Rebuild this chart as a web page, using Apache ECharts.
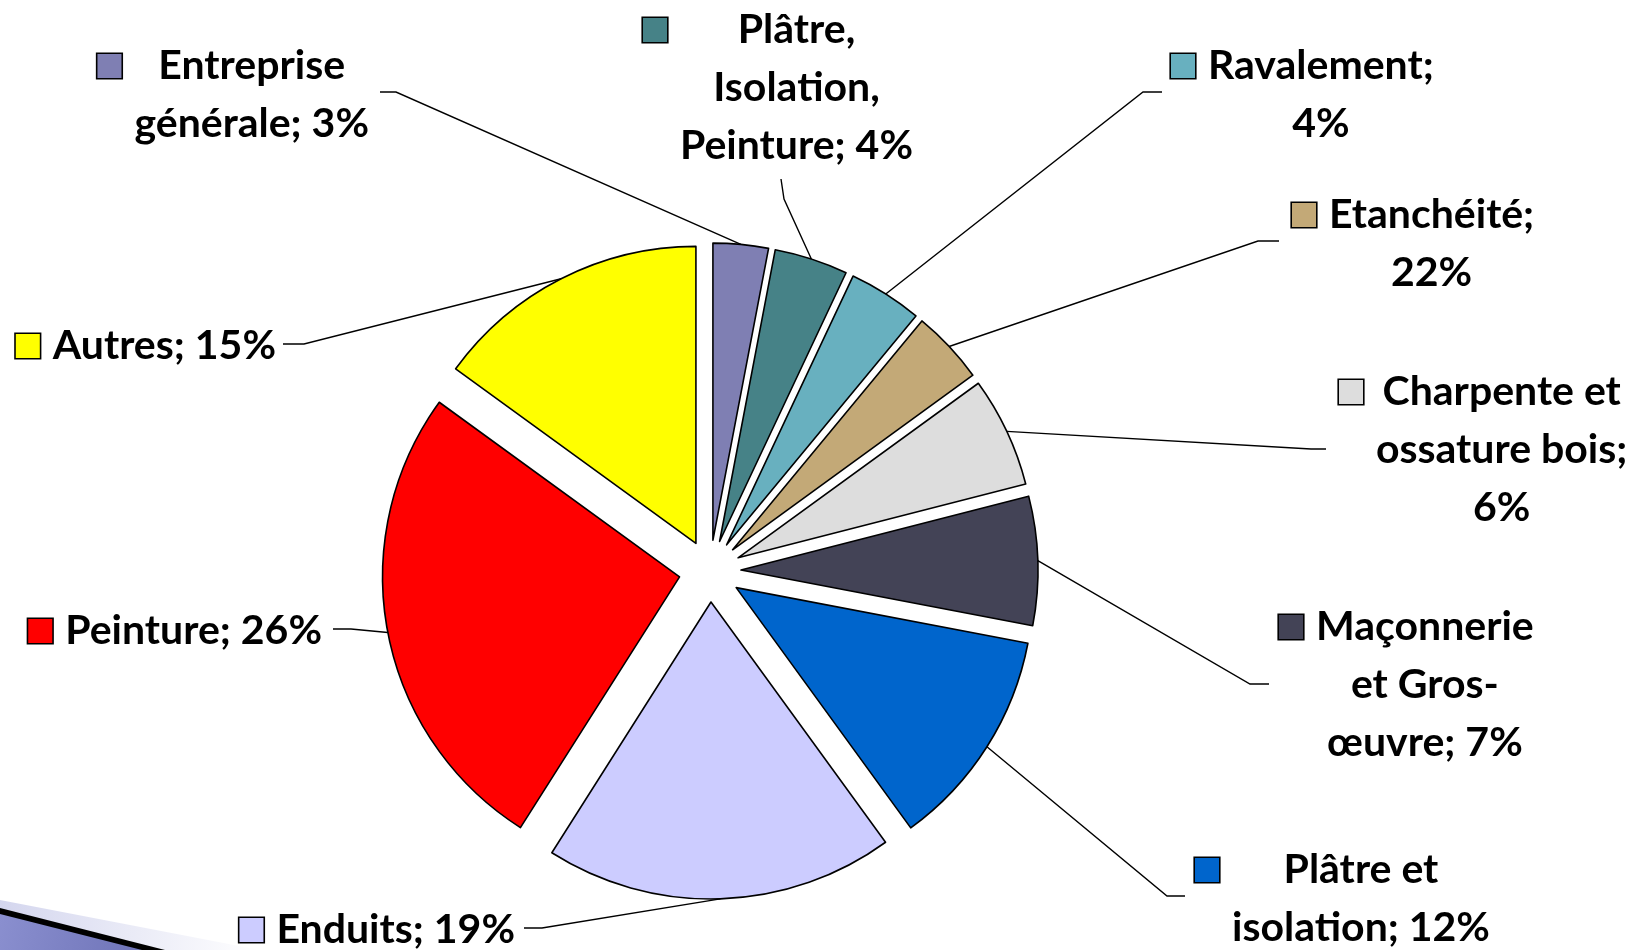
<!DOCTYPE html>
<html>
<head>
<meta charset="utf-8">
<script src="https://cdn.jsdelivr.net/npm/echarts@6/dist/echarts.min.js"></script>
<style>
  html, body { margin: 0; padding: 0; background: #ffffff; }
  #chart { width: 1644px; height: 950px; }
</style>
</head>
<body>
<div id="chart"></div>
<script>
// ---- data ----
const categories = ['Entreprise générale', 'Plâtre, Isolation, Peinture', 'Ravalement', 'Etanchéité',
  'Charpente et ossature bois', 'Maçonnerie et Gros-œuvre', 'Plâtre et isolation', 'Enduits', 'Peinture', 'Autres'];
// slice sizes as drawn (%)
const sliceShares = [3, 4, 4, 4, 6, 7, 12, 19, 26, 15];
// percentages printed in the labels
const labelPercents = [3, 4, 4, 22, 6, 7, 12, 19, 26, 15];
// label text, wrapped as in the picture ({p} = printed percentage)
const labelLines = [
  ['Entreprise', 'générale; {p}%'],
  ['Plâtre,', 'Isolation,', 'Peinture; {p}%'],
  ['Ravalement;', '{p}%'],
  ['Etanchéité;', '{p}%'],
  ['Charpente et', 'ossature bois;', '{p}%'],
  ['Maçonnerie', 'et Gros-', 'œuvre; {p}%'],
  ['Plâtre et', 'isolation; {p}%'],
  ['Enduits; {p}%'],
  ['Peinture; {p}%'],
  ['Autres; {p}%']
];
const colors = ['#7F7FB3', '#468287', '#68B0BF', '#C3A977', '#DDDDDD', '#434356', '#0065CC', '#CCCCFF', '#FF0000', '#FFFF00'];

// ---- layout (not data) ----
const CX = 710, CY = 571, RADIUS = 297, EXPLODE = 31;
const LABEL_LAYOUT = [
  { side: 'L', x: 369, y: 95,  elbow: [396, 92],  end: [380, 92] },
  { side: 'T', x: 778, y: 175, elbow: [784, 199], end: [781, 179] },
  { side: 'R', x: 1171, y: 95, elbow: [1143, 92], end: [1162, 92] },
  { side: 'R', x: 1292, y: 244, elbow: [1258, 241], end: [1279, 241] },
  { side: 'R', x: 1339, y: 450, elbow: [1311, 449], end: [1326, 449] },
  { side: 'R', x: 1279, y: 685, elbow: [1250, 684], end: [1269, 684] },
  { side: 'R', x: 1195, y: 899, elbow: [1167, 896], end: [1185, 896] },
  { side: 'L', x: 515, y: 930, elbow: [542, 928], end: [524, 928] },
  { side: 'L', x: 322, y: 631, elbow: [351, 629], end: [333, 629] },
  { side: 'L', x: 276, y: 346, elbow: [304, 344], end: [283, 344] }
];
const KEY = 24, GAP = 13;

const total = sliceShares.reduce((a, b) => a + b, 0);
const cum = [];
sliceShares.reduce((acc, v, i) => { cum[i] = acc; return acc + v; }, 0);
function sliceEdgePoint(i) {
  const mid = (cum[i] + sliceShares[i] / 2) / total * Math.PI * 2;
  const r = RADIUS + EXPLODE;
  return [CX + r * Math.sin(mid), CY - r * Math.cos(mid)];
}

const rich = {
  g: { width: GAP, height: 10, align: 'left' },
  pad: { width: KEY + GAP, height: 10, align: 'left' },
  t: { fontFamily: 'Lato', fontWeight: 'bold', fontSize: 41, lineHeight: 58, color: '#000', align: 'center' }
};
colors.forEach((c, i) => {
  rich['k' + i] = { width: KEY, height: KEY, backgroundColor: c, borderColor: '#000', borderWidth: 1.6, align: 'left' };
});

function labelText(i) {
  return labelLines[i].map((ln, j) => {
    const txt = ln.replace('{p}', labelPercents[i]);
    return (j === 0 ? '{k' + i + '|}{g|}' : '{pad|}') + '{t|' + txt + '}';
  }).join('\n');
}

const chart = echarts.init(document.getElementById('chart'), null, { renderer: 'canvas' });
chart.setOption({
  animation: false,
  backgroundColor: '#ffffff',
  textStyle: { fontFamily: 'Lato' },
  graphic: [
    { type: 'polygon', silent: true, z: 0,
      shape: { points: [[0, 900], [260, 950], [0, 950]] },
      style: { fill: new echarts.graphic.LinearGradient(0, 0, 1, 0, [
        { offset: 0, color: '#d4d6ee' }, { offset: 1, color: '#ffffff' }]) } },
    { type: 'polygon', silent: true, z: 1,
      shape: { points: [[0, 908], [165, 950], [0, 950]] },
      style: { fill: '#000000' } },
    { type: 'polygon', silent: true, z: 2,
      shape: { points: [[0, 914], [142, 950], [0, 950]] },
      style: { fill: new echarts.graphic.LinearGradient(0, 0, 1, 1, [
        { offset: 0, color: '#8a8fcf' }, { offset: 1, color: '#6f74b8' }]) } }
  ],
  series: [
    {
      name: 'slices',
      type: 'pie',
      center: [CX, CY],
      radius: RADIUS,
      startAngle: 90,
      clockwise: true,
      selectedMode: 'multiple',
      selectedOffset: EXPLODE,
      avoidLabelOverlap: false,
      silent: true,
      label: { show: false },
      labelLine: { show: false },
      itemStyle: { borderColor: '#000', borderWidth: 1.6 },
      emphasis: { disabled: true },
      select: { itemStyle: { borderColor: '#000', borderWidth: 1.6 } },
      data: categories.map((n, i) => ({
        name: n, value: sliceShares[i], selected: true, itemStyle: { color: colors[i] }
      }))
    },
    {
      name: 'labels',
      type: 'pie',
      center: [CX, CY],
      radius: RADIUS,
      startAngle: 90,
      clockwise: true,
      avoidLabelOverlap: false,
      silent: true,
      z: 5,
      itemStyle: { color: 'rgba(0,0,0,0)', borderWidth: 0 },
      emphasis: { disabled: true },
      label: {
        show: true,
        position: 'outside',
        color: '#000',
        formatter: p => labelText(p.dataIndex),
        rich: rich
      },
      labelLine: { show: true, length: 10, length2: 10, lineStyle: { color: '#000', width: 1.4 } },
      labelLayout: params => {
        const i = params.dataIndex;
        const L = LABEL_LAYOUT[i];
        const start = sliceEdgePoint(i);
        const out = {
          x: L.x, y: L.y,
          labelLinePoints: [start, L.elbow, L.end]
        };
        if (L.side === 'L') { out.align = 'right'; out.verticalAlign = 'middle'; }
        else if (L.side === 'R') { out.align = 'left'; out.verticalAlign = 'middle'; }
        else { out.align = 'center'; out.verticalAlign = 'bottom'; }
        return out;
      },
      data: categories.map((n, i) => ({ name: n, value: sliceShares[i] }))
    }
  ]
});
</script>
</body>
</html>
